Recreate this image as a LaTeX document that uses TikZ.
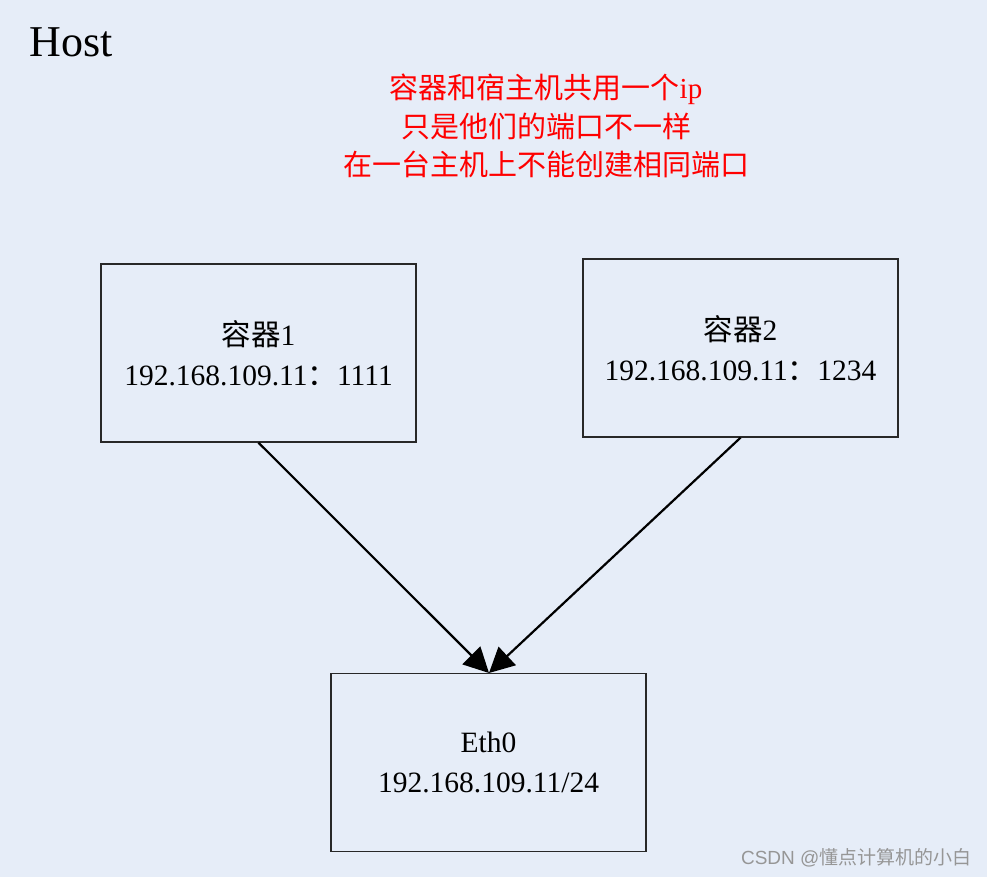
\documentclass[tikz,border=0pt]{standalone}
\usepackage{fontspec}
\setmainfont{Liberation Serif}
\newfontfamily\cjk{Noto Sans CJK SC}
\usetikzlibrary{arrows.meta}
\definecolor{fondo}{RGB}{230,237,248}
\definecolor{borde}{RGB}{40,40,40}
\definecolor{marca}{RGB}{150,150,150}

\begin{document}
\begin{tikzpicture}[
  x=1pt, y=-1pt,
  caja/.style={draw=borde, line width=1.4pt, rectangle, align=center,
    minimum width=315pt, minimum height=178pt, inner sep=0pt,
    font=\fontsize{29.5}{40}\selectfont},
  flujo/.style={-{Triangle[length=25pt, width=25pt]}, line width=2.2pt},
  nota/.style={text=red, align=center, font=\fontsize{29}{38.5}\selectfont\cjk}]
% Fondo y marco de la imagen
\fill[fondo] (0,0) rectangle (987,877);
\useasboundingbox (0,0) rectangle (987,877);
\node[anchor=base west, font=\fontsize{44}{44}\selectfont] (host) at (26,57) {Host};
% Nota en rojo
\node[nota] (nota) at (546,126) {容器和宿主机共用一个\rmfamily ip\\只是他们的端口不一样\\在一台主机上不能创建相同端口};
% Contenedores e interfaz
\node[caja] (c1) at (258.5,353) {{\cjk 容器}1\\192.168.109.11{\cjk ：}1111};
\node[caja] (c2) at (740.5,348) {{\cjk 容器}2\\192.168.109.11{\cjk ：}1234};
\node[caja] (eth) at (488.5,762.5) {Eth0\\192.168.109.11/24};
\coordinate (punta) at (489,673);
\draw[flujo] (c1.south) -- (punta);
\draw[flujo] (c2.south) -- (punta);
% Marca de agua
\node[anchor=base east, text=marca, font=\fontsize{19}{19}\sffamily] (csdn) at (975,864)
  {\fontspec{Liberation Sans}CSDN @{\cjk 懂点计算机的小白}};
\end{tikzpicture}
\end{document}
